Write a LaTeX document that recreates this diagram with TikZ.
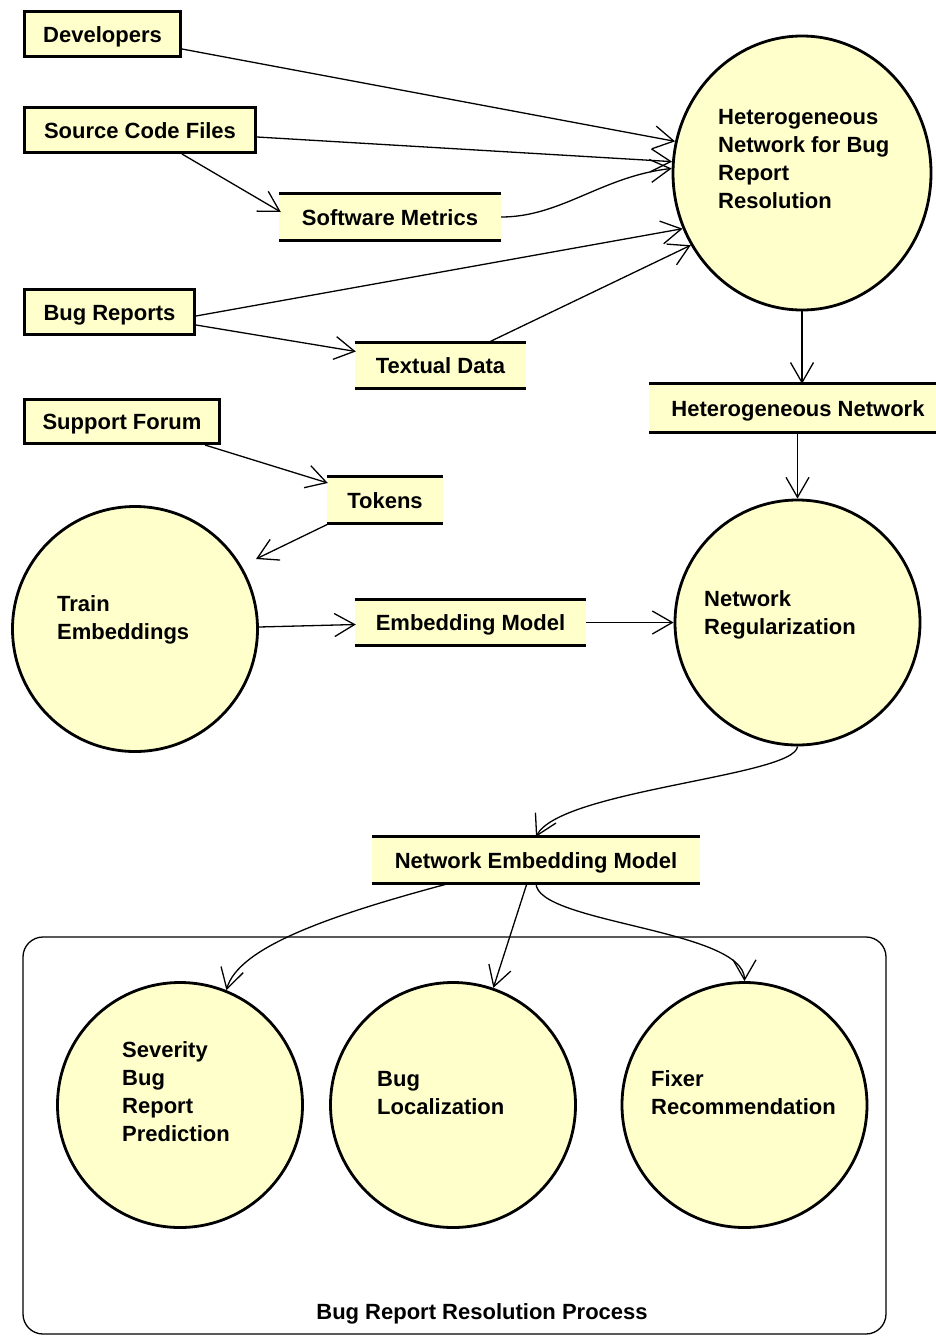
\documentclass[tikz,border=0pt]{standalone}
\usepackage{fontspec}
\setmainfont{Liberation Sans}
\usetikzlibrary{arrows.meta,shapes.geometric,calc}
\definecolor{paleyellow}{HTML}{FFFFCC}

\begin{document}
\begin{tikzpicture}[x=1pt,y=-1pt,
  lblfont/.style={font=\fontsize{22}{28}\selectfont\bfseries},
  extbox/.style={lblfont, draw, line width=3pt, fill=paleyellow, inner sep=0pt,
    text height=16pt, text depth=0pt},
  datastore/.style={lblfont, fill=paleyellow, inner sep=0pt,
    text height=16pt, text depth=0pt},
  storeline/.style={line width=3pt},
  procnode/.style={draw, line width=2.8pt, fill=paleyellow, inner sep=0pt},
  proctext/.style={lblfont, align=left, anchor=north west, inner sep=0pt},
  flowarrow/.style={->, line width=1.3pt},
  groupframe/.style={draw, line width=1.3pt, rounded corners=20pt, inner sep=0pt},
  >={Straight Barb[length=20pt,width=23pt]}
]
\useasboundingbox[fill=white] (0,0) rectangle (936,1336);

% process group frame
\node[groupframe, minimum width=863pt, minimum height=397pt] (group) at (454.5,1135.5) {};
\node[lblfont, inner sep=0pt, text height=16pt, text depth=0pt] (grouplbl) at (482,1311) {Bug Report Resolution Process};

% external entities
\node[extbox, minimum width=156pt, minimum height=45pt] (dev) at (102.5,34) {Developers};
\node[extbox, minimum width=231pt, minimum height=45pt] (scf) at (140,130) {Source Code Files};
\node[extbox, minimum width=170pt, minimum height=45pt] (br) at (109.5,312) {Bug Reports};
\node[extbox, minimum width=195pt, minimum height=44pt] (sf) at (122,421.5) {Support Forum};

% data stores
\node[datastore, minimum width=222pt, minimum height=46pt] (sm) at (390,217) {Software Metrics};
\node[datastore, minimum width=171pt, minimum height=45pt] (td) at (440.5,365.5) {Textual Data};
\node[datastore, minimum width=116pt, minimum height=46pt] (tok) at (385,500) {Tokens};
\node[datastore, minimum width=298pt, minimum height=48pt] (hn) at (798,408) {Heterogeneous Network};
\node[datastore, minimum width=231pt, minimum height=45pt] (em) at (470.5,622.5) {Embedding Model};
\node[datastore, minimum width=328pt, minimum height=46pt] (nem) at (536,860) {Network Embedding Model};
\foreach \s in {sm,td,tok,hn,em,nem}
  \draw[storeline] (\s.north west) -- (\s.north east) (\s.south west) -- (\s.south east);

% processes
\node[procnode, ellipse, minimum width=258pt, minimum height=274pt] (het) at (802,173) {};
\node[procnode, circle, minimum size=245pt] (nr) at (797.5,622.5) {};
\node[procnode, circle, minimum size=245pt] (tr) at (135,629) {};
\node[procnode, circle, minimum size=245pt] (sev) at (180,1105) {};
\node[procnode, circle, minimum size=245pt] (bl) at (453,1105) {};
\node[procnode, circle, minimum size=245pt] (fx) at (744.5,1105) {};

\node[proctext] (hett) at (718,109) {Heterogeneous\\Network for Bug\\Report\\Resolution};
\node[proctext] (nrt) at (704,590) {Network\\Regularization};
\node[proctext] (trt) at (57,595) {Train\\Embeddings};
\node[proctext] (sevt) at (122,1041) {Severity\\Bug\\Report\\Prediction};
\node[proctext] (blt) at (377,1071) {Bug\\Localization};
\node[proctext] (fxt) at (651,1070) {Fixer\\Recommendation};

% data flows
\draw[flowarrow] ($(dev.east)+(0,15)$) -- (het.166.6);
\draw[flowarrow] ($(scf.east)+(0,7)$) -- (het.175);
\draw[flowarrow] ($(scf.south)+(42,0)$) -- ($(sm.west)+(2,-5)$);
\draw[flowarrow] (sm.east) .. controls +(60,0) and +(-70,8) .. (het.178.7);
\draw[flowarrow] ($(br.east)+(0,4)$) -- (het.205);
\draw[flowarrow] ($(br.east)+(0,13)$) -- ($(td.west)+(1,-14)$);
\draw[flowarrow] ($(td.north)+(47,0)$) -- (het.213);
\draw[flowarrow] (het.south) -- (het.south |- hn.north);
\draw[flowarrow] (hn.south -| nr.north) -- (nr.north);
\draw[flowarrow] ($(sf.south)+(83,0)$) -- ($(tok.west)+(1,-17)$);
\draw[flowarrow] ($(tok.south west)+(1,1)$) -- ($(tr.center)+(121,-70)$);
\draw[flowarrow] ($(tr.east)+(0,-2)$) -- ($(em.west)+(1,2)$);
\draw[flowarrow] (em.east) -- (nr.west);
\draw[flowarrow] (nr.south) .. controls +(-2,30) and +(24,-47) .. (nem.north);
\draw[flowarrow] ($(nem.south)+(-86,0)$) .. controls +(-120,32) and +(12,-43) .. (sev.68);
\draw[flowarrow] ($(nem.south)+(-9,0)$) -- (bl.71);
\draw[flowarrow] (nem.south) .. controls +(0,40) and +(0,-52) .. (fx.north);
\end{tikzpicture}
\end{document}
